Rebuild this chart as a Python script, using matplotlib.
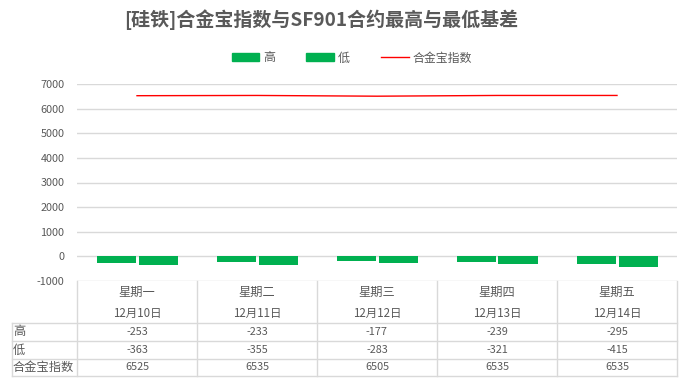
import matplotlib
matplotlib.use("Agg")
import matplotlib.pyplot as plt
import matplotlib.transforms as mtransforms
from matplotlib.patches import Patch
from matplotlib.lines import Line2D
import numpy as np

plt.rcParams['font.family'] = ['Noto Sans CJK SC', 'DejaVu Sans']

title = "[硅铁]合金宝指数与SF901合约最高与最低基差"
weekdays = ["星期一", "星期二", "星期三", "星期四", "星期五"]
dates = ["12月10日", "12月11日", "12月12日", "12月13日", "12月14日"]
high = [-253, -233, -177, -239, -295]
low = [-363, -355, -283, -321, -415]
index_vals = [6525, 6535, 6505, 6535, 6535]
series_names = ["高", "低", "合金宝指数"]
yticks = [-1000, 0, 1000, 2000, 3000, 4000, 5000, 6000, 7000]

W, H = 689, 388
GREEN = "#00B050"
RED = "#FF0000"
GRID = "#D9D9D9"
TXT = "#595959"

def fx(p):
    return p / W

def fy(p):
    return 1 - p / H

fig = plt.figure(figsize=(W / 100, H / 100), dpi=100)
ax = fig.add_axes([fx(77), fy(281), fx(677) - fx(77), fy(84) - fy(281)])

x = np.arange(len(weekdays))
bw = 0.325
off = 0.175
ax.bar(x - off, high, width=bw, color=GREEN, zorder=3)
ax.bar(x + off, low, width=bw, color=GREEN, zorder=3)
ax.plot(x, index_vals, color=RED, lw=1.0, zorder=4)

ax.set_xlim(-0.5, len(weekdays) - 0.5)
ax.set_ylim(yticks[0], yticks[-1])
ax.set_yticks(yticks)
ax.set_yticklabels([str(v) for v in yticks])
ax.set_xticks([])
ax.tick_params(axis='y', length=0, labelsize=7.8, labelcolor=TXT, pad=9)
for s in ax.spines.values():
    s.set_visible(False)
ax.yaxis.grid(True, color=GRID, lw=1)
ax.set_axisbelow(True)

# title
fig.text(fx(321.5), fy(20), title, ha='center', va='center', fontsize=13.7,
         fontweight='bold', color=TXT)

# legend
handles = [Patch(facecolor=GREEN, edgecolor=GREEN),
           Patch(facecolor=GREEN, edgecolor=GREEN),
           Line2D([0], [0], color=RED, lw=1.0)]
fig.legend(handles, series_names, loc='center', bbox_to_anchor=(fx(352), fy(58)),
           ncol=3, frameon=False, fontsize=8.6, handlelength=2.3, handleheight=0.6,
           columnspacing=2.6, handletextpad=0.35, labelcolor=TXT)

# data table
bt = mtransforms.blended_transform_factory(ax.transData, fig.transFigure)
ft = fig.transFigure
lkw = dict(color=GRID, lw=1, clip_on=False)

row_tops = [323, 341, 358.5, 376]
for b in np.arange(-0.5, len(weekdays), 1.0):
    fig.add_artist(Line2D([b, b], [fy(281), fy(376)], transform=bt, **lkw))
fig.add_artist(Line2D([fx(12), fx(12)], [fy(323), fy(376)], transform=ft, **lkw))
for r in row_tops:
    fig.add_artist(Line2D([fx(12), fx(677)], [fy(r), fy(r)], transform=ft, **lkw))

for i in range(len(weekdays)):
    fig.text(x[i], fy(292), weekdays[i], transform=bt, ha='center', va='center',
             fontsize=8.8, color=TXT)
    fig.text(x[i], fy(313.5), dates[i], transform=bt, ha='center', va='center',
             fontsize=8.3, color=TXT)
    for vals, yc in zip([high, low, index_vals], [332, 350, 367]):
        fig.text(x[i], fy(yc), str(vals[i]), transform=bt, ha='center', va='center',
                 fontsize=7.8, color=TXT)

for name, yc in zip(series_names, [332, 350, 367]):
    fig.text(fx(13), fy(yc), name, ha='left', va='center', fontsize=8.8, color=TXT)

fig.savefig("out.png", dpi=100, facecolor='white')
